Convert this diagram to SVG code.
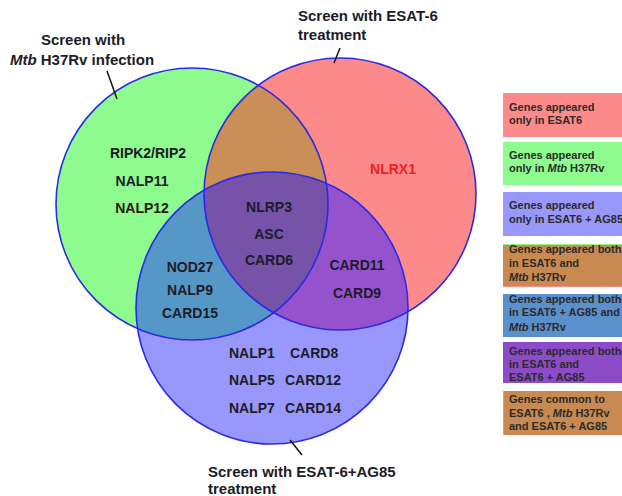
<svg xmlns="http://www.w3.org/2000/svg" width="622" height="496" viewBox="0 0 622 496">
<style>
text{font-family:"Liberation Sans",Arial,sans-serif;font-weight:bold;fill:#1c1c28}
.g{font-size:14px;text-anchor:middle}
.gl{font-size:14px}
.t{font-size:15px}
.l{font-size:11px;fill:#2a2a2a}
.ring{fill:none;stroke:#2a2ae6;stroke-width:1.6}
.ln{stroke:#111;stroke-width:1.5}
</style>
<defs>
<clipPath id="cG"><circle cx="192" cy="204" r="136"/></clipPath>
<clipPath id="cR"><circle cx="340" cy="194" r="136"/></clipPath>
</defs>
<rect width="622" height="496" fill="#fff"/>
<g id="venn">
<circle cx="192" cy="204" r="136" fill="#8dfb8d"/>
<circle cx="340" cy="194" r="136" fill="#fd8a8a"/>
<circle cx="272" cy="308" r="136" fill="#9898fc"/>
<circle cx="340" cy="194" r="136" fill="#c98f57" clip-path="url(#cG)"/>
<circle cx="272" cy="308" r="136" fill="#5598c8" clip-path="url(#cG)"/>
<circle cx="272" cy="308" r="136" fill="#9552cc" clip-path="url(#cR)"/>
<g clip-path="url(#cG)"><circle cx="272" cy="308" r="136" fill="#7652a8" clip-path="url(#cR)"/></g>
<circle id="ring-mtb" class="ring" cx="192" cy="204" r="136"/>
<circle id="ring-esat6" class="ring" cx="340" cy="194" r="136"/>
<circle id="ring-ag85" class="ring" cx="272" cy="308" r="136"/>
</g>
<g id="connectors">
<line class="ln" x1="107" y1="71" x2="117" y2="99"/>
<line class="ln" x1="340" y1="48" x2="334" y2="63"/>
<line class="ln" x1="290" y1="440" x2="302" y2="455"/>
</g>
<g id="label-mtb">
<text class="t" x="83" y="45" text-anchor="middle">Screen with</text>
<text class="t" x="82" y="65" text-anchor="middle"><tspan font-style="italic">Mtb</tspan> H37Rv infection</text>
</g>
<g id="label-esat6">
<text class="t" x="298" y="21">Screen with ESAT-6</text>
<text class="t" x="298" y="40">treatment</text>
</g>
<g id="label-ag85">
<text class="t" x="208" y="477">Screen with ESAT-6+AG85</text>
<text class="t" x="208" y="494">treatment</text>
</g>
<g id="genes-mtb">
<text class="g" x="148" y="158">RIPK2/RIP2</text>
<text class="g" x="142" y="186">NALP11</text>
<text class="g" x="142" y="213" style="fill:#2c1810">NALP12</text>
</g>
<g id="genes-esat6">
<text class="g" x="393" y="174" style="fill:#ee2222">NLRX1</text>
</g>
<g id="genes-all">
<text class="g" x="269" y="212">NLRP3</text>
<text class="g" x="269" y="239">ASC</text>
<text class="g" x="269" y="265">CARD6</text>
</g>
<g id="genes-mtb-ag85">
<text class="g" x="190" y="272">NOD27</text>
<text class="g" x="190" y="295">NALP9</text>
<text class="g" x="190" y="318">CARD15</text>
</g>
<g id="genes-esat6-ag85">
<text class="g" x="357" y="270">CARD11</text>
<text class="g" x="357" y="298">CARD9</text>
</g>
<g id="genes-ag85">
<text class="gl" x="229" y="358">NALP1</text>
<text class="gl" x="290" y="358">CARD8</text>
<text class="gl" x="229" y="385">NALP5</text>
<text class="gl" x="285" y="385">CARD12</text>
<text class="gl" x="229" y="413">NALP7</text>
<text class="gl" x="285" y="413">CARD14</text>
</g>
<g id="legend">
<g id="leg1"><rect x="503" y="93" width="130" height="44" fill="#fd8a8a"/>
<text class="l" x="509" y="111">Genes appeared</text><text class="l" x="509" y="124">only in ESAT6</text></g>
<g id="leg2"><rect x="503" y="142" width="130" height="43" fill="#8dfb8d"/>
<text class="l" x="509" y="159">Genes appeared</text><text class="l" x="509" y="172">only in <tspan font-style="italic">Mtb</tspan> H37Rv</text></g>
<g id="leg3"><rect x="503" y="192" width="130" height="44" fill="#9898fc"/>
<text class="l" x="509" y="209">Genes appeared</text><text class="l" x="509" y="223">only in ESAT6 + AG85</text></g>
<g id="leg4"><rect x="503" y="244" width="130" height="43" fill="#c88a50"/>
<line x1="503" y1="244.5" x2="622" y2="244.5" stroke="#8dfb8d"/><line x1="503" y1="286.5" x2="622" y2="286.5" stroke="#fd8a8a"/>
<text class="l" x="509" y="253">Genes appeared both</text><text class="l" x="509" y="267">in ESAT6 and</text><text class="l" x="509" y="281"><tspan font-style="italic">Mtb</tspan> H37Rv</text></g>
<g id="leg5"><rect x="503" y="294" width="130" height="43" fill="#5a90cc"/>
<text class="l" x="509" y="303">Genes appeared both</text><text class="l" x="509" y="316">in ESAT6 + AG85 and</text><text class="l" x="509" y="331"><tspan font-style="italic">Mtb</tspan> H37Rv</text></g>
<g id="leg6"><rect x="503" y="342" width="130" height="41" fill="#8c4cc8"/>
<text class="l" x="509" y="355">Genes appeared both</text><text class="l" x="509" y="368">in ESAT6 and</text><text class="l" x="509" y="381">ESAT6 + AG85</text></g>
<g id="leg7"><rect x="503" y="391" width="130" height="44" fill="#c88a50"/>
<line x1="503.5" y1="391" x2="503.5" y2="435" stroke="#fd8a8a"/>
<text class="l" x="509" y="403">Genes common to</text><text class="l" x="509" y="417">ESAT6 , <tspan font-style="italic">Mtb</tspan> H37Rv</text><text class="l" x="509" y="430">and ESAT6 + AG85</text></g>
</g>
</svg>
